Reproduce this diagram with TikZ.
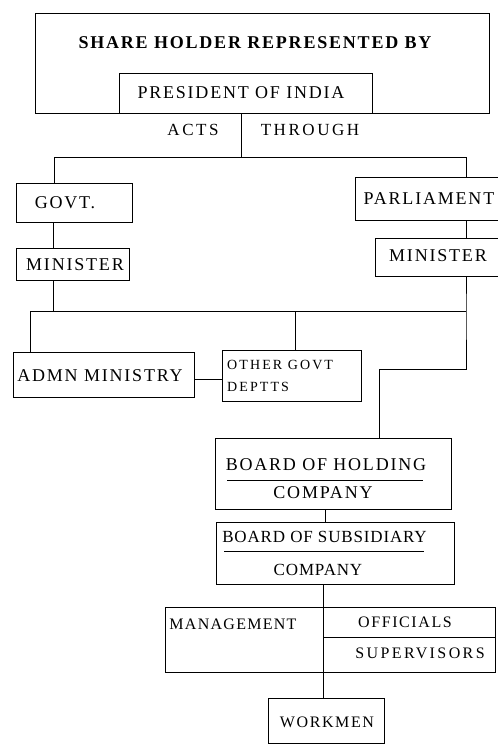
\documentclass[tikz,border=0pt]{standalone}
\usepackage{fontspec}
\setmainfont{Liberation Serif}
\usetikzlibrary{fit}
\begin{document}
\begin{tikzpicture}[x=1pt,y=-1pt,
  box/.style={draw, line width=0.9pt, inner sep=0pt, outer sep=0pt},
  ln/.style={line width=0.9pt},
  txt/.style={inner sep=0pt},
  fs/.style 2 args={font=\fontsize{#1}{#1}\selectfont\addfontfeature{LetterSpace=#2}},
  bfs/.style 2 args={font=\fontsize{#1}{#1}\selectfont\bfseries\addfontfeature{LetterSpace=#2}}]
\useasboundingbox (0,0) rectangle (498,745);

% top
\node[box, fit={(35,13) (489,113)}] (outer) {};
\node[box, fit={(119,73) (372,113)}] (pres) {};
\node[txt, bfs={18}{10}] (shareT) at (255,43) {SHARE HOLDER REPRESENTED BY};
\node[txt, fs={18}{10}] (presT) at (241,93) {PRESIDENT OF INDIA};
\node[txt, fs={17}{15}] (acts) at (193,130) {ACTS};
\node[txt, fs={17}{15}] (through) at (310,130) {THROUGH};

% second level
\node[box, fit={(16,183) (132,222)}] (govt) {};
\node[txt, fs={18}{10}] (govtT) at (65,203) {GOVT.};
\node[box, fit={(355,177) (510,220)}] (parl) {};
\node[txt, fs={18}{10}] (parlT) at (429,199) {PARLIAMENT};
\node[box, fit={(16,248) (129,280)}] (min1) {};
\node[txt, fs={18}{10}] (min1T) at (75,265) {MINISTER};
\node[box, fit={(375,238) (510,276)}] (min2) {};
\node[txt, fs={18}{10}] (min2T) at (438,256) {MINISTER};

% ministries
\node[box, fit={(13,352) (194,397)}] (admn) {};
\node[txt, fs={18}{10}] (admnT) at (100,376) {ADMN MINISTRY};
\node[box, fit={(222,350) (361,401)}] (other) {};
\node[txt, fs={14}{15}, anchor=west] (other1) at (227,365) {OTHER GOVT};
\node[txt, fs={14}{15}, anchor=west] (other2) at (227,387) {DEPTTS};

% boards
\node[box, fit={(215,438) (451,509)}] (hold) {};
\node[txt, fs={18}{10}] (holdT) at (326,465) {BOARD OF HOLDING};
\node[txt, fs={18}{10}] (holdC) at (323,493) {COMPANY};
\draw[ln] (227,480) -- (423,480);
\node[box, fit={(216,522) (454,584)}] (sub) {};
\node[txt, fs={17}{5}] (subT) at (324.5,537) {BOARD OF SUBSIDIARY};
\node[txt, fs={17}{5}] (subC) at (318,570) {COMPANY};
\draw[ln] (224,551) -- (424,551);

% management
\node[box, fit={(165,607) (495,672)}] (mgmt) {};
\node[txt, fs={16}{8}] (mgmtT) at (233,624) {MANAGEMENT};
\node[txt, fs={16}{10}] (offT) at (405,622) {OFFICIALS};
\node[txt, fs={16}{15}] (supT) at (420,653) {SUPERVISORS};
\node[box, fit={(268,698) (384,743)}] (work) {};
\node[txt, fs={16}{10}] (workT) at (327,722) {WORKMEN};

% reference coordinates
\coordinate (j1) at (241,157);
\coordinate (jl) at (54,157);
\coordinate (jr) at (466,157);
\coordinate (xg) at (53,0);
\coordinate (bl) at (30,311);
\coordinate (br) at (466,311);
\coordinate (xo) at (295,0);
\coordinate (yA) at (0,379);
\coordinate (bend1) at (466,369);
\coordinate (bend2) at (379,369);
\coordinate (xh) at (325,0);
\coordinate (xm) at (323,0);
\coordinate (ymid) at (0,637);

% connectors
\draw[ln] (j1 |- pres.south) -- (j1);
\draw[ln] (jl |- govt.north) -- (jl) -- (jr) -- (jr |- parl.north);
\draw[ln] (govt.south -| xg) -- (min1.north -| xg);
\draw[ln] (parl.south -| jr) -- (min2.north -| jr);
\draw[ln] (min1.south -| xg) -- (xg |- bl);
\draw[ln] (admn.north -| bl) -- (bl) -- (br);
\draw[ln] (other.north -| xo) -- (xo |- bl);
\draw[ln] (min2.south -| br) -- (br) -- (bend1) -- (bend2) -- (hold.north -| bend2);
\draw[ln] (admn.east |- yA) -- (other.west |- yA);
\draw[ln] (hold.south -| xh) -- (sub.north -| xh);
\draw[ln] (sub.south -| xm) -- (work.north -| xm);
\draw[ln] (xm |- ymid) -- (mgmt.east |- ymid);
\end{tikzpicture}
\end{document}
